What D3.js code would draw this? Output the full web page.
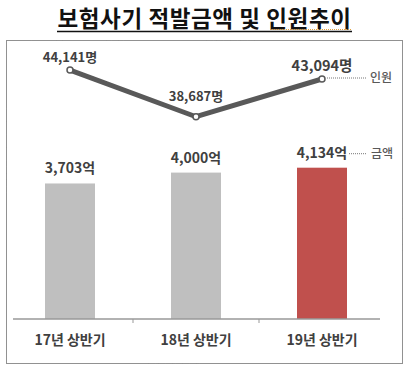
<!DOCTYPE html>
<html>
<head>
<meta charset="utf-8">
<script src="https://cdn.jsdelivr.net/npm/d3@7"></script>
<style>
  body { margin: 0; background: #fff; }
  text { font-family: "Noto Sans CJK KR", "Noto Sans", sans-serif; }
</style>
</head>
<body>
<svg id="chart" width="407" height="373"></svg>
<script>
const title = '보험사기 적발금액 및 인원추이';
const periods = ['17년 상반기', '18년 상반기', '19년 상반기'];
const amounts = [3703, 4000, 4134];       // 억원
const people = [44141, 38687, 43094];      // 명
const barColors = ['#bfbfbf', '#bfbfbf', '#c0504d'];

const svg = d3.select('#chart');
const fmt = d3.format(',');

// title + underline
svg.append('text')
    .attr('x', 204.5)
    .attr('y', 27)
    .attr('text-anchor', 'middle')
    .attr('font-size', 22.5)
    .attr('font-weight', 700)
    .attr('letter-spacing', 0.6)
    .attr('fill', '#111')
    .text(title);
svg.append('line')
    .attr('x1', 57).attr('x2', 352)
    .attr('y1', 31.5).attr('y2', 31.5)
    .style('stroke', '#111')
    .style('stroke-width', 1.4);
// spell-check squiggle under the last word
svg.append('line')
    .attr('x1', 270).attr('x2', 352)
    .attr('y1', 29.5).attr('y2', 29.5)
    .style('stroke', '#e0a040')
    .style('stroke-width', 1)
    .style('stroke-dasharray', '1,1');

// dotted frame
svg.append('rect')
    .attr('x', 6.5).attr('y', 40.5)
    .attr('width', 396).attr('height', 323)
    .style('fill', 'none')
    .style('stroke', '#222')
    .style('stroke-width', 1)
    .style('stroke-dasharray', '1,1');

const x = d3.scaleBand()
    .domain(periods)
    .range([7, 385]);
const y = d3.scaleLinear()
    .domain([0, 5000])
    .range([319, 136]);
const yLine = d3.scaleLinear()
    .domain([38000, 45000])
    .range([122.6, 62.7]);

const cx = p => x(p) + x.bandwidth() / 2;
const barW = 50;

// bars
svg.append('g')
  .selectAll('rect')
  .data(amounts)
  .enter().append('rect')
    .attr('x', (d, i) => cx(periods[i]) - barW / 2)
    .attr('y', d => y(d))
    .attr('width', barW)
    .attr('height', d => y(0) - y(d))
    .style('fill', (d, i) => barColors[i]);

// bar labels
svg.append('g')
  .selectAll('text')
  .data(amounts)
  .enter().append('text')
    .attr('x', (d, i) => cx(periods[i]))
    .attr('y', d => y(d) - 10)
    .attr('text-anchor', 'middle')
    .attr('font-size', 14)
    .attr('font-weight', 700)
    .attr('fill', '#404040')
    .text(d => `${fmt(d)}억`);

// axis
const axis = svg.append('g');
axis.append('line')
    .attr('x1', 13).attr('x2', 380)
    .attr('y1', 319).attr('y2', 319)
    .style('stroke', '#999')
    .style('stroke-width', 1.5);
axis.selectAll('.tick')
  .data(periods.slice(1))
  .enter().append('line')
    .attr('class', 'tick')
    .attr('x1', d => x(d)).attr('x2', d => x(d))
    .attr('y1', 319).attr('y2', 323)
    .style('stroke', '#999');
axis.selectAll('.cat')
  .data(periods)
  .enter().append('text')
    .attr('class', 'cat')
    .attr('x', d => cx(d))
    .attr('y', 345)
    .attr('text-anchor', 'middle')
    .attr('font-size', 14)
    .attr('font-weight', 700)
    .attr('fill', '#404040')
    .text(d => d);

// people line
const line = d3.line()
    .x((d, i) => cx(periods[i]))
    .y(d => yLine(d));
svg.append('path')
    .datum(people)
    .attr('d', line)
    .style('fill', 'none')
    .style('stroke', '#595959')
    .style('stroke-width', 5);
svg.append('g')
  .selectAll('circle')
  .data(people)
  .enter().append('circle')
    .attr('cx', (d, i) => cx(periods[i]))
    .attr('cy', d => yLine(d))
    .attr('r', 3)
    .style('fill', '#fff')
    .style('stroke', '#595959')
    .style('stroke-width', 1.5);
svg.append('g')
  .selectAll('text')
  .data(people)
  .enter().append('text')
    .attr('x', (d, i) => cx(periods[i]))
    // the valley point sits between two rising segments, so its label is lifted higher
    .attr('y', (d, i) => yLine(d) - (i === 1 ? 15.5 : 8.5))
    .attr('text-anchor', 'middle')
    .attr('font-size', (d, i) => i === 2 ? 14.5 : 13)
    .attr('font-weight', 700)
    .attr('fill', '#404040')
    .text(d => `${fmt(d)}명`);

// series call-outs
const last = periods.length - 1;
const callouts = [
  {name: '인원', x1: cx(periods[last]) + 5, x2: 366, y: yLine(people[last]) - 1},
  {name: '금액', x1: cx(periods[last]) + 27, x2: 367, y: y(amounts[last]) - 14}
];
const co = svg.append('g');
co.selectAll('line')
  .data(callouts)
  .enter().append('line')
    .attr('x1', d => d.x1).attr('x2', d => d.x2)
    .attr('y1', d => d.y).attr('y2', d => d.y)
    .style('stroke', '#777')
    .style('stroke-width', 1)
    .style('stroke-dasharray', '1,1');
co.selectAll('text')
  .data(callouts)
  .enter().append('text')
    .attr('x', d => d.x2 + 4)
    .attr('y', d => d.y + 4)
    .attr('font-size', 12)
    .attr('font-weight', 500)
    .attr('fill', '#595959')
    .text(d => d.name);
</script>
</body>
</html>
